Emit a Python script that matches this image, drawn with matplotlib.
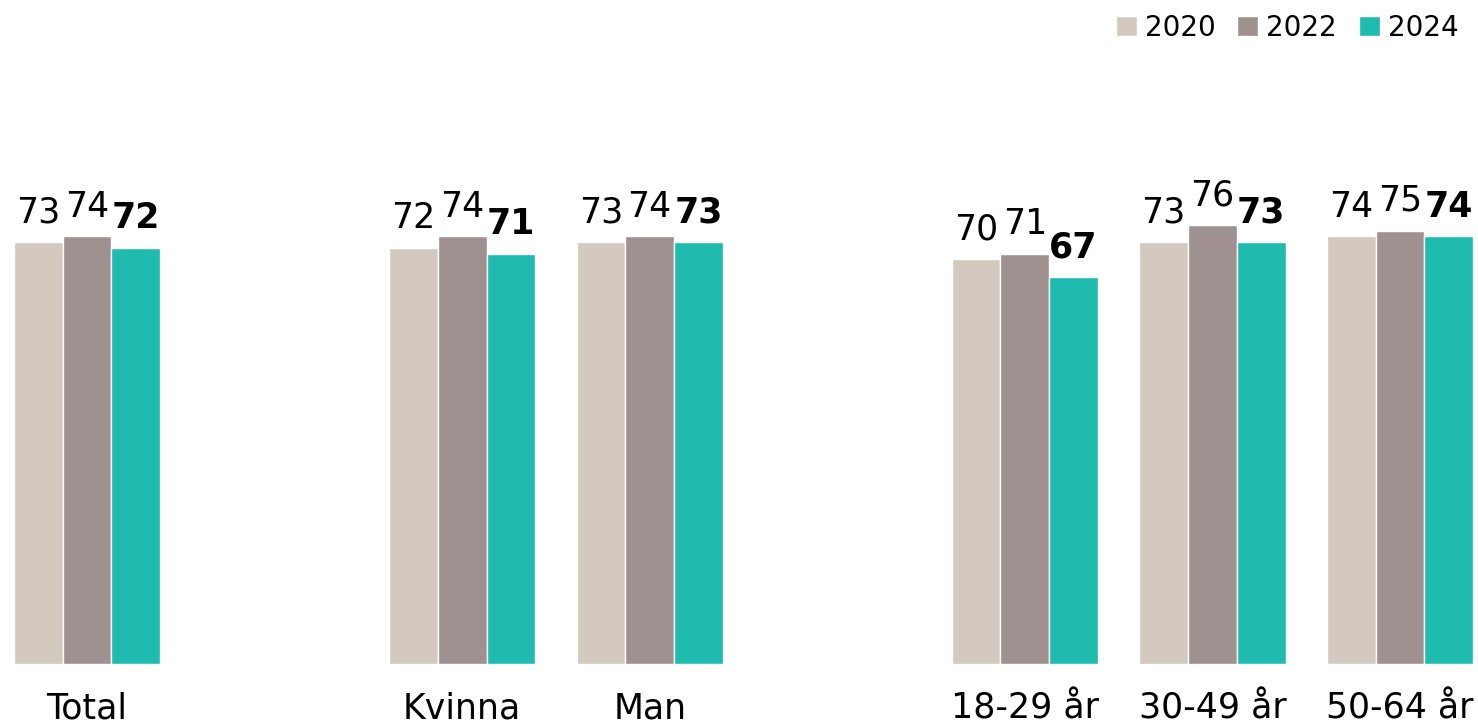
import matplotlib
matplotlib.use("Agg")
import matplotlib.pyplot as plt
import numpy as np

plt.rcParams['font.family'] = ['DejaVu Sans']

categories = ["Total", "Kvinna", "Man", "18-29 år", "30-49 år", "50-64 år"]
slots = [0, 2, 3, 5, 6, 7]
years = ["2020", "2022", "2024"]
values_2020 = [73, 72, 73, 70, 73, 74]
values_2022 = [74, 74, 74, 71, 76, 75]
values_2024 = [72, 71, 73, 67, 73, 74]
colors = ["#D3C9BE", "#9E9190", "#20BBAF"]

series = [values_2020, values_2022, values_2024]

fig = plt.figure(figsize=(14.78, 7.28), dpi=100)
ax = fig.add_axes([0, 64 / 728, 1, 578 / 728])

w = 0.26
x = np.array(slots, dtype=float)
handles = []
for i, (vals, col, yr) in enumerate(zip(series, colors, years)):
    pos = x + (i - 1) * w
    b = ax.bar(pos, vals, width=w, color=col, edgecolor="white", linewidth=1, label=yr)
    handles.append(b)
    for px, v in zip(pos, vals):
        ax.text(px, v + 3.4, f"{v}", ha="center", va="baseline", fontsize=25,
                fontweight="bold" if i == 2 else "normal", color="black")

# category names under each group, placed just above the lower edge of the figure
for px, cat in zip(x, categories):
    ax.text(px, -9.4, cat, ha="center", va="baseline", fontsize=25, color="black")

ax.set_xlim(-0.464, 7.416)
ax.set_ylim(0, 100)
ax.axis("off")

fig.legend(handles=handles, labels=years, loc="upper right", bbox_to_anchor=(1.0, 1.008),
           ncol=3, frameon=False, fontsize=20, handlelength=0.75, handleheight=0.75,
           handletextpad=0.3, columnspacing=0.78, borderaxespad=0.3)

fig.savefig("out.png", dpi=100)
